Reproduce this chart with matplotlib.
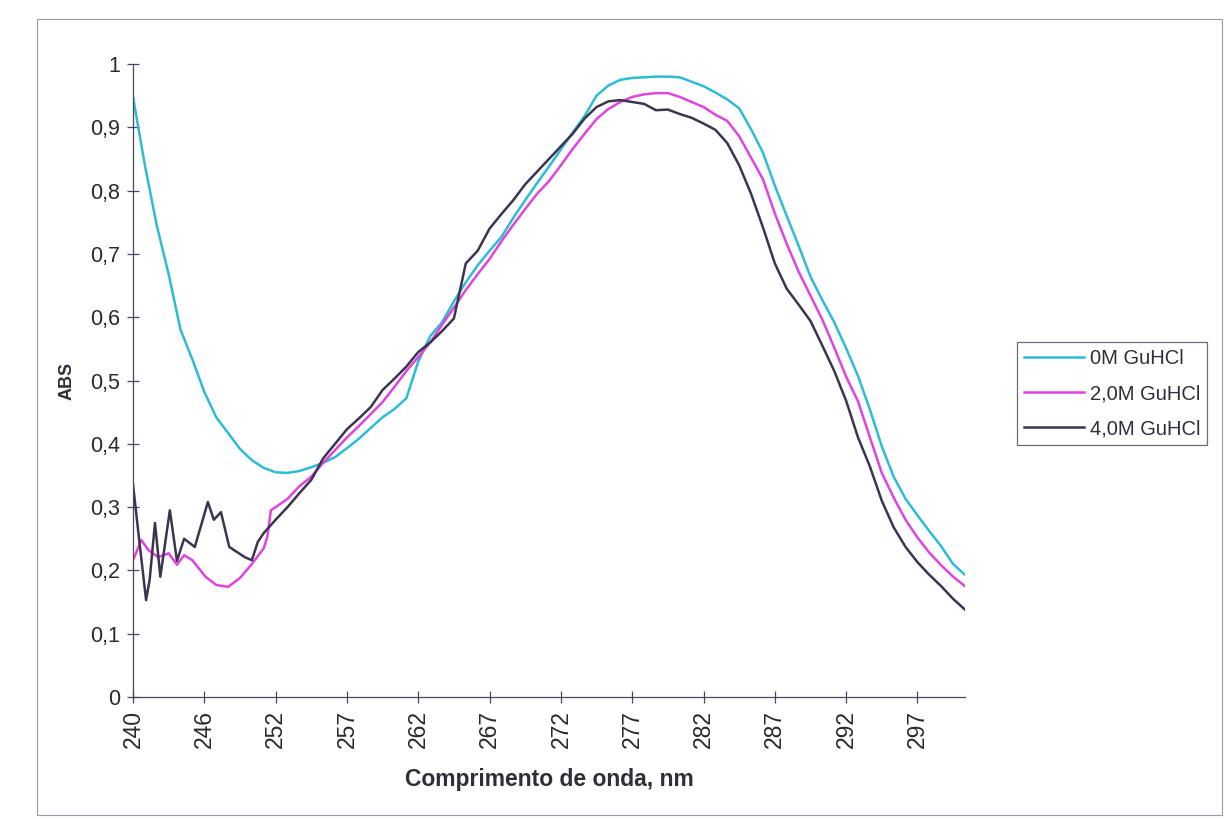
import numpy as np
import matplotlib
matplotlib.use("Agg")
import matplotlib.pyplot as plt
from matplotlib.patches import Rectangle

plt.rcParams['font.family'] = ['Liberation Sans', 'DejaVu Sans']

# ================== DATA ==================
# x positions are category indices (one category per scan step)
tick_pos = [0, 6, 12, 18, 24, 30, 36, 42, 48, 54, 60, 66]
tick_labels = ["240", "246", "252", "257", "262", "267", "272", "277", "282", "287", "292", "297"]
y_ticks = [0, 0.1, 0.2, 0.3, 0.4, 0.5, 0.6, 0.7, 0.8, 0.9, 1.0]
y_tick_labels = ["0", "0,1", "0,2", "0,3", "0,4", "0,5", "0,6", "0,7", "0,8", "0,9", "1"]

series_names = ["0M GuHCl", "2,0M GuHCl", "4,0M GuHCl"]

pos_0m = list(range(71))
abs_0m = [0.948, 0.840, 0.745, 0.668, 0.580, 0.533, 0.482, 0.442, 0.417, 0.392,
          0.374, 0.362, 0.355, 0.354, 0.357, 0.363, 0.370, 0.379, 0.393, 0.408,
          0.425, 0.442, 0.455, 0.472, 0.530, 0.570, 0.592, 0.625, 0.655, 0.682,
          0.705, 0.727, 0.757, 0.785, 0.812, 0.838, 0.865, 0.892, 0.918, 0.950,
          0.966, 0.975, 0.978, 0.979, 0.980, 0.980, 0.979, 0.972, 0.965, 0.955,
          0.944, 0.930, 0.897, 0.860, 0.808, 0.760, 0.713, 0.664, 0.627, 0.592,
          0.551, 0.507, 0.454, 0.396, 0.348, 0.313, 0.287, 0.262, 0.238, 0.210,
          0.193]

pos_2m = [0, 0.7, 1.3, 2.1, 3.0, 3.7, 4.3, 5.0, 6.1, 7, 8, 9, 10, 11, 11.3, 11.6,
          12, 13, 14, 15, 16, 17, 18, 19, 20, 21, 22, 23, 24, 25, 26, 27, 28, 29,
          30, 31, 32, 33, 34, 35, 36, 37, 38, 39, 40, 41, 42, 43, 44, 45, 46, 47,
          48, 49, 50, 51, 52, 53, 54, 55, 56, 57, 58, 59, 60, 61, 62, 63, 64, 65,
          66, 67, 68, 69, 70]
abs_2m = [0.216, 0.248, 0.232, 0.221, 0.227, 0.209, 0.224, 0.216, 0.190, 0.177,
          0.174, 0.188, 0.210, 0.235, 0.253, 0.295,
          0.300, 0.313, 0.333, 0.348, 0.370, 0.390, 0.410, 0.428, 0.447, 0.466,
          0.490, 0.515, 0.537, 0.560, 0.588, 0.615, 0.643, 0.668,
          0.692, 0.720, 0.746, 0.771, 0.795, 0.815, 0.840, 0.866, 0.890, 0.913,
          0.929, 0.940, 0.948, 0.952, 0.954, 0.954, 0.948, 0.940,
          0.932, 0.920, 0.910, 0.886, 0.852, 0.818, 0.764, 0.716, 0.672, 0.634,
          0.596, 0.552, 0.506, 0.467, 0.410, 0.354, 0.315, 0.280,
          0.252, 0.228, 0.208, 0.190, 0.175]

pos_4m = [0, 0.45, 1.1, 1.4, 1.85, 2.3, 3.1, 3.7, 4.3, 5.2, 6.3, 6.8, 7.4, 8.1,
          9.4, 10.0, 10.5, 11, 12, 13, 14, 15, 16, 17, 18, 19, 20, 21, 22, 23,
          24, 25, 26, 27, 28, 29, 30, 31, 32, 33, 34, 35, 36, 37, 38, 39, 40, 41,
          42, 43, 44, 45, 46, 47, 48, 49, 50, 51, 52, 53, 54, 55, 56, 57, 58, 59,
          60, 61, 62, 63, 64, 65, 66, 67, 68, 69, 70]
abs_4m = [0.336, 0.260, 0.153, 0.185, 0.275, 0.190, 0.295, 0.215, 0.250, 0.237,
          0.308, 0.280, 0.292, 0.237, 0.221, 0.216, 0.245, 0.259, 0.280, 0.300,
          0.322, 0.343, 0.377, 0.400, 0.423, 0.440, 0.458, 0.485, 0.503, 0.522,
          0.545, 0.560, 0.578, 0.598, 0.685, 0.705, 0.740, 0.763, 0.785, 0.810,
          0.830, 0.850, 0.870, 0.890, 0.914, 0.932, 0.941, 0.943,
          0.940, 0.937, 0.927, 0.928, 0.921, 0.915, 0.906, 0.896, 0.875, 0.840,
          0.795, 0.742, 0.685, 0.645, 0.620, 0.594, 0.555, 0.515,
          0.468, 0.410, 0.364, 0.310, 0.268, 0.237, 0.213, 0.193, 0.175, 0.155,
          0.138]

colors = ["#2dbcd6", "#e044dc", "#3b3550"]
AXIS_COLOR = "#4a4560"

# ================== PLOT ==================
fig = plt.figure(figsize=(12.25, 8.19), dpi=100)
ax = fig.add_axes([133 / 1225, 1 - 697 / 819, (965 - 133) / 1225, (697 - 64) / 819])

for pos, vals, name, c in zip([pos_0m, pos_2m, pos_4m], [abs_0m, abs_2m, abs_4m],
                              series_names, colors):
    ax.plot(pos, vals, color=c, linewidth=1.8, label=name)

ax.set_xlim(0, 70)
ax.set_ylim(0, 1)
ax.set_xticks(tick_pos)
ax.set_xticklabels(tick_labels, rotation=90, fontsize=16.5)
ax.set_yticks(y_ticks)
ax.set_yticklabels(y_tick_labels, fontsize=15.5)

for side in ["top", "right"]:
    ax.spines[side].set_visible(False)
for side in ["left", "bottom"]:
    ax.spines[side].set_color(AXIS_COLOR)
    ax.spines[side].set_linewidth(0.9)
ax.tick_params(direction="inout", length=9, width=0.9, color=AXIS_COLOR,
               labelcolor="#2a2a2a", pad=5)

ax.set_xlabel("Comprimento de onda, nm", fontsize=16.5, fontweight="bold",
              color="#2f2f3a", labelpad=14)
ax.set_ylabel("ABS", fontsize=13, fontweight="bold", color="#2f2f3a", labelpad=10)

leg = fig.legend(loc="upper left", bbox_to_anchor=(1017 / 1225, 1 - 342 / 819),
                 fontsize=14.5, frameon=True, fancybox=False, handlelength=3.0,
                 borderpad=0.35, labelspacing=0.8, handletextpad=0.25,
                 borderaxespad=0)
leg.get_frame().set_edgecolor(AXIS_COLOR)
leg.get_frame().set_linewidth(0.9)
for t in leg.get_texts():
    t.set_color("#2f2f3a")

# outer chart frame
fig.patches.append(Rectangle((37 / 1225, 4 / 819), (1222 - 37) / 1225, (800 - 4) / 819,
                             transform=fig.transFigure, fill=False,
                             edgecolor="#9a9aa8", linewidth=0.8))

fig.savefig("out.png", dpi=100)
